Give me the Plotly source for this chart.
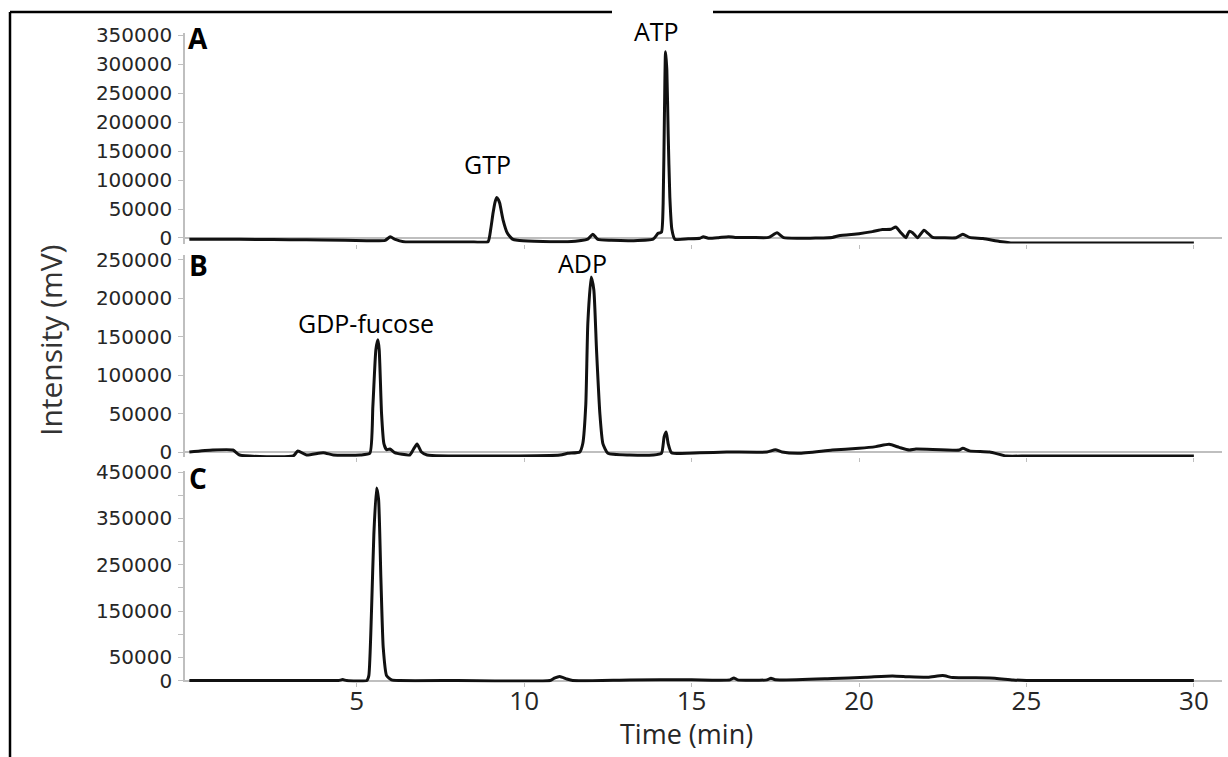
import plotly.graph_objects as go

# ---------------- data ----------------
a_time = [0, 1, 2, 3, 4, 5.3, 5.85, 6.0, 6.15, 6.4, 7.5, 8.5, 8.92, 9.0, 9.07, 9.13, 9.18,
          9.23, 9.27, 9.37, 9.5, 9.65, 9.8, 10.3, 11.3, 11.9, 12.05, 12.2, 12.6, 13.25, 13.85,
          14.0, 14.1, 14.15, 14.19, 14.22, 14.26, 14.3, 14.35, 14.41, 14.5, 14.9, 15.25, 15.35,
          15.5, 15.8, 16.1, 16.3, 16.8, 17.3, 17.55, 17.75, 18.2, 18.7, 19.2, 19.4, 20.0, 20.4,
          20.7, 20.95, 21.1, 21.25, 21.4, 21.5, 21.6, 21.75, 21.94, 22.2, 22.5, 22.9, 23.1, 23.3,
          23.7, 24.2, 24.6, 25, 26, 27, 28, 29, 30]
a_int = [-2000, -2200, -2500, -3000, -3500, -4600, -4000, 2000, -2500, -6500, -7000, -7000,
         -6500, 15000, 43000, 62000, 70000, 66000, 60000, 31000, 8000, -2000, -4000, -5500,
         -6400, -2000, 6400, -2500, -4000, -4600, -2000, 8000, 10000, 60000, 220000, 321000,
         290000, 180000, 70000, 15000, -2200, -1500, -500, 2200, -500, 500, 2200, 1000, 1000,
         1000, 9000, 500, -500, 0, 1000, 4000, 7500, 11000, 14500, 15000, 19000, 9000, 500,
         11500, 9000, 500, 13500, 1000, 500, 500, 6500, 1000, -1000, -6000, -8800, -8500,
         -8500, -8500, -8500, -8500, -8500]

b_time = [0, 0.7, 1.3, 1.5, 3.1, 3.24, 3.5, 4.0, 4.3, 5.1, 5.39, 5.48, 5.57, 5.63, 5.67, 5.74,
          5.81, 5.89, 5.99, 6.13, 6.58, 6.68, 6.8, 6.93, 7.1, 11.07, 11.3, 11.66, 11.75, 11.84,
          11.9, 12.0, 12.08, 12.16, 12.26, 12.35, 12.5, 13.15, 13.85, 14.1, 14.18, 14.24, 14.3,
          14.4, 15.25, 16.05, 17.25, 17.5, 17.7, 18.2, 19.2, 20.0, 20.5, 20.9, 21.2, 21.5, 21.7,
          23.0, 23.1, 23.3, 23.9, 24.4, 25, 26, 27, 28, 29, 30]
b_int = [0, 2600, 2600, -3900, -5200, 1300, -3900, -900, -3900, -3900, -1700, 59000, 133000,
         146000, 133000, 50000, 11000, 3000, 4000, -800, -3900, 2600, 10400, 0, -3900, -3900,
         -1700, 0, 11000, 62000, 167000, 228000, 211000, 133000, 50000, 11000, -1700, -3900,
         -3900, -1700, 20000, 26000, 11000, -900, -1000, 0, 0, 3000, 0, -1700, 2600, 4800, 7000,
         10000, 6000, 2600, 3900, 2600, 5000, 1500, 0, -5200, -5200, -5200, -5200, -5200,
         -5200, -5200]

c_time = [0, 1, 2, 3, 4, 4.45, 4.58, 4.7, 5.3, 5.36, 5.44, 5.51, 5.59, 5.65, 5.72, 5.79, 5.89,
          6.04, 6.28, 8, 10.77, 10.9, 11.06, 11.26, 11.45, 13.15, 15, 16.15, 16.26, 16.37, 17.25,
          17.37, 17.5, 19.2, 20.2, 21.0, 21.5, 22.06, 22.5, 22.8, 23.9, 24.6, 25, 26, 27, 28,
          29, 30]
c_int = [0, 0, 0, 0, 0, 0, 2000, 0, 0, 10700, 150000, 315000, 415700, 392000, 221000, 71000,
         10700, 1400, 0, 0, 0, 5000, 8600, 3600, 0, 1400, 1500, 1500, 5700, 1500, 1500, 5000,
         1500, 4300, 7000, 10000, 8000, 7000, 10700, 6400, 5700, 1400, 0, 0, 0, 0, 0, 0]

x_ticks = [5, 10, 15, 20, 25, 30]
ya_ticks = [0, 50000, 100000, 150000, 200000, 250000, 300000, 350000]
ya_text = ["0", "50000", "100000", "150000", "200000", "250000", "300000", "350000"]
yb_ticks = [0, 50000, 100000, 150000, 200000, 250000]
yb_text = ["0", "50000", "100000", "150000", "200000", "250000"]
yc_ticks = [0, 50000, 100000, 150000, 200000, 250000, 300000, 350000, 400000, 450000]
yc_text = ["0", "50000", "", "150000", "", "250000", "", "350000", "", "450000"]

peak_labels = ["GTP", "ATP", "GDP-fucose", "ADP"]
panel_labels = ["A", "B", "C"]

# ---------------- layout helpers ----------------
W, H = 1228, 757
L, R = 185, 6


def px(p):
    return (p - L) / (W - L - R)


def py(p):
    return 1 - p / H


GRAY = "#bfbfbf"
TXT = "#262626"
line = dict(color="#111111", width=3, shape="spline", smoothing=0.5)

fig = go.Figure()
fig.add_trace(go.Scatter(x=a_time, y=a_int, mode="lines", line=line, xaxis="x", yaxis="y",
                         showlegend=False, hoverinfo="skip"))
fig.add_trace(go.Scatter(x=b_time, y=b_int, mode="lines", line=line, xaxis="x2", yaxis="y2",
                         showlegend=False, hoverinfo="skip"))
fig.add_trace(go.Scatter(x=c_time, y=c_int, mode="lines", line=line, xaxis="x3", yaxis="y3",
                         showlegend=False, hoverinfo="skip"))

xcommon = dict(range=[-0.13, 30.84], domain=[0, 1], showgrid=False, zeroline=False,
               showline=False, ticks="outside", ticklen=4, tickwidth=1, tickcolor=GRAY,
               tickvals=x_ticks, automargin=False)
ycommon = dict(showgrid=False, zeroline=True, zerolinecolor=GRAY, zerolinewidth=1.5,
               showline=True, linecolor=GRAY, linewidth=1.5, ticks="outside", ticklen=5,
               tickwidth=1, tickcolor=GRAY, automargin=False, ticklabelstandoff=2,
               tickfont=dict(family="DejaVu Sans", size=20, color=TXT))

fig.update_layout(
    width=W, height=H,
    margin=dict(l=L, r=R, t=0, b=0, autoexpand=False),
    paper_bgcolor="white", plot_bgcolor="white",
    xaxis=dict(xcommon, anchor="y", showticklabels=False),
    xaxis2=dict(xcommon, anchor="y2", showticklabels=False),
    xaxis3=dict(xcommon, anchor="y3", showticklabels=True, ticklabelstandoff=-9,
                tickfont=dict(family="Open Sans", size=26, color=TXT)),
    yaxis=dict(ycommon, anchor="x", domain=[py(243.5), py(33.3)], range=[-9500, 353000],
               tickvals=ya_ticks, ticktext=ya_text),
    yaxis2=dict(ycommon, anchor="x2", domain=[py(457), py(255)], range=[-6500, 256500],
                tickvals=yb_ticks, ticktext=yb_text),
    yaxis3=dict(ycommon, anchor="x3", domain=[py(682.4), py(471.1)], range=[-4000, 452000],
                tickvals=yc_ticks, ticktext=yc_text),
)

ann = []
lab_font = dict(family="Open Sans", size=25, color="#000000")
for text, (x, y) in zip(peak_labels, [(487, 164), (656, 31), (366, 323), (582, 263)]):
    ann.append(dict(text=text, x=px(x), y=py(y), xref="paper", yref="paper",
                    xanchor="center", yanchor="middle", showarrow=False, font=lab_font))
for text, (x, y) in zip(panel_labels, [(186, 38), (187, 265), (187, 478)]):
    ann.append(dict(text="<b>%s</b>" % text, x=px(x), y=py(y), xref="paper", yref="paper",
                    xanchor="left", yanchor="middle", showarrow=False,
                    font=dict(family="Open Sans", size=28, color="#000000")))
ann.append(dict(text="Time (min)", x=px(686), y=py(733), xref="paper", yref="paper",
                xanchor="center", yanchor="middle", showarrow=False,
                font=dict(family="Open Sans", size=27, color=TXT)))
ann.append(dict(text="Intensity (mV)", x=px(50), y=py(341), xref="paper", yref="paper",
                xanchor="center", yanchor="middle", showarrow=False, textangle=-90,
                font=dict(family="Open Sans", size=30, color="#333333")))
fig.update_layout(annotations=ann)

# outer frame (top line with a gap, left line)
frame = dict(color="#000000", width=2.5)
fig.add_shape(type="line", xref="paper", yref="paper", x0=px(10), x1=px(612), y0=py(12), y1=py(12), line=frame)
fig.add_shape(type="line", xref="paper", yref="paper", x0=px(713), x1=px(1228), y0=py(12), y1=py(12), line=frame)
fig.add_shape(type="line", xref="paper", yref="paper", x0=px(10), x1=px(10), y0=py(12), y1=py(757), line=frame)

fig.write_html("out.html")
